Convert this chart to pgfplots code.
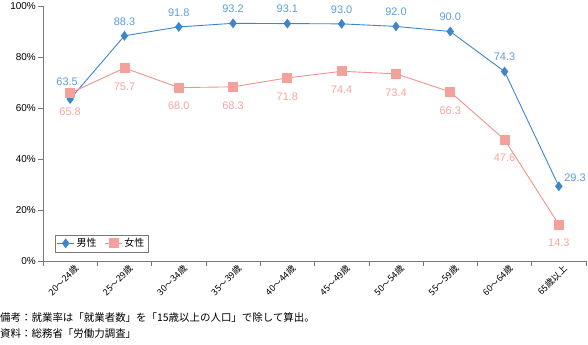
\documentclass[border=0pt]{standalone}
\usepackage{fontspec}
\setmainfont{Liberation Sans}
\newfontfamily\jp{Noto Sans CJK JP}
\usepackage{pgfplots}
\pgfplotsset{compat=1.18}
\definecolor{mblue}{RGB}{62,134,204}
\definecolor{mbluet}{RGB}{92,157,216}
\definecolor{fpink}{RGB}{240,146,140}
\definecolor{fpinkm}{RGB}{244,160,155}
\definecolor{fpinkt}{RGB}{244,165,160}
\definecolor{axgray}{RGB}{120,120,120}
\pgfplotsset{lbl/.style={draw=none, forget plot, mark=none,
  nodes near coords={\pgfmathprintnumber[fixed,fixed zerofill,precision=1]{\pgfplotspointmeta}},
  nodes near coords style={font=\fontsize{11}{13}\selectfont, #1}}}
\begin{document}
\begin{tikzpicture}[x=1bp,y=1bp]
\path[use as bounding box] (-43,-83) rectangle (545,261);
\begin{axis}[
  at={(0,0)}, anchor=south west,
  scale only axis, width=543bp, height=255bp,
  xmin=-0.5, xmax=9.5, ymin=0, ymax=100,
  axis x line=bottom, axis y line=left,
  axis line style={-, axgray, line width=0.7pt},
  tick align=outside,
  xtick={0,...,9},
  xticklabels={20～24歳,25～29歳,30～34歳,35～39歳,40～44歳,45～49歳,50～54歳,55～59歳,60～64歳,65歳以上},
  major x tick style={draw=none},
  minor xtick={-0.5,0.5,1.5,2.5,3.5,4.5,5.5,6.5,7.5,8.5,9.5},
  minor x tick style={axgray, line width=0.6pt},
  minor tick length=5bp,
  ytick={0,20,...,100},
  y tick style={axgray, line width=0.6pt},
  major tick length=5bp,
  yticklabel={\pgfmathprintnumber[fixed,precision=0]{\tick}\%},
  /pgf/number format/assume math mode=true,
  yticklabel style={font=\fontsize{10}{12}\selectfont, text=black, inner sep=2bp},
  xticklabel style={rotate=45, anchor=north east, font=\jp\fontsize{9}{10}\selectfont, text=black, inner sep=1bp, xshift=5bp},
  clip=false,
  legend style={at={(12/543,9/255)}, anchor=south west, draw=axgray, line width=0.5pt,
    font=\jp\fontsize{10}{12}\selectfont, legend columns=2, inner sep=1.5bp,
    /tikz/every even column/.append style={column sep=6bp}},
  legend cell align=left,
]
\addplot[mblue, line width=0.9pt, mark=diamond*, mark size=4.2bp, mark options={solid, fill=mblue, draw=mblue}]
  coordinates {(0,63.5)(1,88.3)(2,91.8)(3,93.2)(4,93.1)(5,93.0)(6,92.0)(7,90.0)(8,74.3)(9,29.3)};
\addlegendentry{男性}
\addplot[fpink, line width=0.9pt, mark=square*, mark size=4.5bp, mark options={solid, fill=fpinkm, draw=fpinkm}]
  coordinates {(0,65.8)(1,75.7)(2,68.0)(3,68.3)(4,71.8)(5,74.4)(6,73.4)(7,66.3)(8,47.6)(9,14.3)};
\addlegendentry{女性}
% labels
\addplot[lbl={text=mbluet, anchor=south, yshift=7bp}]
  coordinates {(1,88.3)(2,91.8)(3,93.2)(4,93.1)(5,93.0)(6,92.0)(7,90.0)(8,74.3)};
\addplot[lbl={text=mbluet, anchor=south, xshift=-3bp, yshift=10bp}]
  coordinates {(0,63.5)};
\addplot[lbl={text=mbluet, anchor=south west, xshift=2bp, yshift=1bp}]
  coordinates {(9,29.3)};
\addplot[lbl={text=fpinkt, anchor=north, yshift=-11bp}]
  coordinates {(0,65.8)(1,75.7)(2,68.0)(3,68.3)(4,71.8)(5,74.4)(6,73.4)(7,66.3)(8,47.6)(9,14.3)};
\end{axis}
\node[anchor=west, font=\jp\fontsize{10.5}{12}\selectfont, inner sep=0pt] at (-43,-57) {備考：就業率は「就業者数」を「15歳以上の人口」で除して算出。};
\node[anchor=west, font=\jp\fontsize{10.5}{12}\selectfont, inner sep=0pt] at (-43,-73) {資料：総務省「労働力調査」};
\end{tikzpicture}
\end{document}
